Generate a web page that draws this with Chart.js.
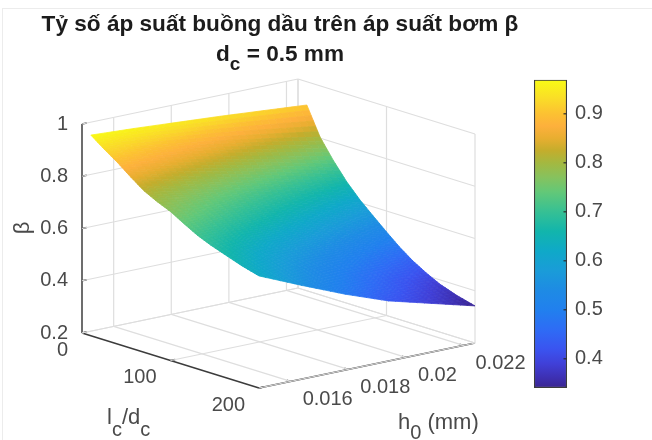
<!DOCTYPE html>
<html><head><meta charset="utf-8">
<style>html,body{margin:0;padding:0;background:#fff}
#w{position:relative;width:652px;height:440px;overflow:hidden}
canvas{display:block;filter:blur(0.7px)}</style>
<script src="https://cdn.jsdelivr.net/npm/chart.js@4/dist/chart.umd.min.js"></script>
</head><body><div id="w"><canvas id="c" width="652" height="440"></canvas></div>
<script>
const titleLine = "Tỷ số áp suất buồng dầu trên áp suất bơm β";
const lcTicks = [0,100,200];
const h0Ticks = [0.016,0.018,0.02,0.022];
const h0TickLabels = ["0.016","0.018","0.02","0.022"];
const betaTicks = [0.2,0.4,0.6,0.8,1];
const betaTickLabels = ["0.2","0.4","0.6","0.8","1"];
const cbTicks = [0.4,0.5,0.6,0.7,0.8,0.9];
const lcRange = [0,200];
const h0Range = [0.0149,0.0224];
const betaRange = [0.2,1];
const cbRange = [0.341,0.969];
const lcGrid = [10,25,40,55,70,85,100,115,130,145,160,180,200];
const h0Grid = [0.0149,0.0164,0.0179,0.0194,0.0209,0.0224];
const beta10  = [0.968,0.959,0.948,0.937,0.924,0.911];
const beta25  = [0.930,0.910,0.887,0.862,0.834,0.804];
const beta40  = [0.895,0.868,0.838,0.804,0.768,0.730];
const beta55  = [0.855,0.822,0.786,0.747,0.707,0.665];
const beta70  = [0.818,0.781,0.741,0.699,0.655,0.611];
const beta85  = [0.792,0.750,0.705,0.659,0.612,0.565];
const beta100 = [0.770,0.722,0.671,0.620,0.569,0.520];
const beta115 = [0.740,0.687,0.633,0.579,0.527,0.477];
const beta130 = [0.712,0.656,0.599,0.543,0.490,0.440];
const beta145 = [0.690,0.630,0.571,0.514,0.460,0.410];
const beta160 = [0.672,0.609,0.546,0.488,0.434,0.384];
const beta180 = [0.648,0.583,0.521,0.462,0.409,0.360];
const beta200 = [0.629,0.558,0.490,0.430,0.386,0.342];
const betaRows = [beta10,beta25,beta40,beta55,beta70,beta85,beta100,beta115,beta130,beta145,beta160,beta180,beta200];
const cmapValues = [0.341,0.36,0.39,0.42,0.46,0.50,0.54,0.58,0.62,0.66,0.70,0.74,0.77,0.80,0.825,0.85,0.875,0.90,0.93,0.969];
const cmapColors = ["#3a2590","#3d2fb0","#4040d8","#3a54f0","#2e6cf5","#2180ee","#1e8be4","#1a9cd8","#0fa9c8","#12b5ac","#36c094","#62c878","#86c25e","#a4b840","#c4ad2c","#e8ae30","#fdb03c","#fcc132","#fadc28","#f9fb15"];

const W=652,H=440;
const O={x:82,y:333}, LC={x:177,y:55}, HV={x:216,y:-45}, ZV=261.25;
function proj(lc,h,b){
  const a=(lc-lcRange[0])/(lcRange[1]-lcRange[0]), u=(h-h0Range[0])/(h0Range[1]-h0Range[0]);
  return {x:O.x+LC.x*a+HV.x*u, y:O.y+LC.y*a+HV.y*u-ZV*(b-betaRange[0])};
}
const [l0,l1]=lcRange,[h0,h1]=h0Range,[z0,z1]=betaRange;
function seg(a,b,color,width,n){return {type:'scatter',showLine:true,pointRadius:0,borderColor:color,borderWidth:width,fill:false,data:[proj(...a),proj(...b)],xAxisID:'x',yAxisID:'y',label:n}}
const GRID='#dedede', DARK='#3c3c3c';
const datasets=[];
// back planes
for(const t of h0Ticks.concat([h1])){
  datasets.push(seg([l0,t,z0],[l0,t,z1],GRID,1.2,'grid'));
  datasets.push(seg([l0,t,z0],[l1,t,z0],GRID,1.2,'grid'));
}
for(const t of lcTicks){
  datasets.push(seg([t,h1,z0],[t,h1,z1],GRID,1.2,'grid'));
  datasets.push(seg([t,h0,z0],[t,h1,z0],GRID,1.2,'grid'));
}
for(const t of betaTicks){
  datasets.push(seg([l0,h0,t],[l0,h1,t],GRID,1.2,'grid'));
  datasets.push(seg([l0,h1,t],[l1,h1,t],GRID,1.2,'grid'));
}
// axes
datasets.push(seg([l0,h0,z0],[l0,h0,z1],DARK,1.5,'beta axis'));
datasets.push(seg([l0,h0,z0],[l1,h0,z0],DARK,1.5,'lc axis'));
datasets.push(seg([l1,h0,z0],[l1,h1,z0],DARK,1.5,'h0 axis'));
// axis ticks
for(const t of betaTicks) datasets.push(seg([l0,h0,t],[l0,h0+(h1-h0)*0.022,t],DARK,1.5,'tick'));
for(const t of lcTicks) datasets.push(seg([t,h0,z0],[t,h0+(h1-h0)*0.022,z0],DARK,1.5,'tick'));
for(const t of h0Ticks) datasets.push(seg([l1,t,z0],[l1-(l1-l0)*0.022,t,z0],DARK,1.5,'tick'));
// surface mesh
const meshIndex=datasets.length;
const mesh=[];
lcGrid.forEach((lc,i)=>h0Grid.forEach((h,j)=>mesh.push(proj(lc,h,betaRows[i][j]))));
datasets.push({type:'scatter',label:'β surface',data:mesh,pointRadius:0,showLine:false,xAxisID:'x',yAxisID:'y'});
// colorbar
datasets.push({type:'bar',label:'colorbar',data:[{x:550.5,y:cbRange}],xAxisID:'x',yAxisID:'cb',barThickness:32.5,borderWidth:1.2,borderColor:'#3c3c3c',borderSkipped:false,
  backgroundColor(ctx){
    const ch=ctx.chart,s=ch.scales.cb; if(!s||!ch.chartArea) return '#888';
    const y0=s.getPixelForValue(cbRange[0]),y1=s.getPixelForValue(cbRange[1]);
    if(!isFinite(y0)||!isFinite(y1)) return '#888';
    const g=ch.ctx.createLinearGradient(0,y0,0,y1);
    cmapValues.forEach((v,i)=>g.addColorStop((v-cbRange[0])/(cbRange[1]-cbRange[0]),cmapColors[i]));
    return g;
  }});
function hex(c){return [1,3,5].map(i=>parseInt(c.substr(i,2),16))}
const cmapRGB=cmapColors.map(hex);
function colorOf(v){
  let i=0;while(i<cmapValues.length-2&&v>cmapValues[i+1])i++;
  let t=(v-cmapValues[i])/(cmapValues[i+1]-cmapValues[i]);t=Math.max(0,Math.min(1,t));
  const a=cmapRGB[i],b=cmapRGB[i+1];
  return `rgb(${a.map((c,k)=>Math.round(c+(b[k]-c)*t)).join(',')})`;
}
const surfacePlugin={id:'surface',afterDatasetsDraw(ch){
  const pts=ch.getDatasetMeta(meshIndex).data,ctx=ch.ctx,nc=h0Grid.length,nr=lcGrid.length,S=6;
  const P=(r,c)=>pts[r*nc+c];
  ctx.save();ctx.lineWidth=0.8;ctx.lineJoin='round';
  for(let r=0;r<nr-1;r++)for(let c=0;c<nc-1;c++){
    const A=P(r,c),B=P(r,c+1),C=P(r+1,c+1),D=P(r+1,c);
    const va=betaRows[r][c],vb=betaRows[r][c+1],vc=betaRows[r+1][c+1],vd=betaRows[r+1][c];
    const bl=(s,t,a,b,c2,d)=>(a*(1-s)*(1-t)+b*s*(1-t)+c2*s*t+d*(1-s)*t);
    for(let i=0;i<S;i++)for(let j=0;j<S;j++){
      const s0=j/S,s1=(j+1)/S,t0=i/S,t1=(i+1)/S;
      const q=[[s0,t0],[s1,t0],[s1,t1],[s0,t1]].map(([s,t])=>[bl(s,t,A.x,B.x,C.x,D.x),bl(s,t,A.y,B.y,C.y,D.y)]);
      const col=colorOf(bl((s0+s1)/2,(t0+t1)/2,va,vb,vc,vd));
      ctx.fillStyle=col;ctx.strokeStyle=col;
      ctx.beginPath();q.forEach((p,k)=>k?ctx.lineTo(p[0],p[1]):ctx.moveTo(p[0],p[1]));ctx.closePath();ctx.fill();ctx.stroke();
    }
  }
  ctx.restore();
}};
const TXT='#4a4a4a', TICKFONT='20px "Liberation Sans"';
function text(ctx,s,x,y,font,align,color){ctx.font=font;ctx.textAlign=align||'left';ctx.textBaseline='middle';ctx.fillStyle=color||TXT;ctx.fillText(s,x,y);}
const textPlugin={id:'texts',afterDraw(ch){
  const ctx=ch.ctx,xs=ch.scales.x,ys=ch.scales.y,cb=ch.scales.cb;
  const px=p=>({x:xs.getPixelForValue(p.x),y:ys.getPixelForValue(p.y)});
  ctx.save();
  // frame
  ctx.strokeStyle='#ececec';ctx.lineWidth=1;ctx.strokeRect(2.5,8.5,700,500);
  // title
  const TF='bold 22.6px "Liberation Sans"',TS='bold 19px "Liberation Sans"';
  text(ctx,titleLine,280,25,TF,'center','#1c1c1c');
  ctx.font=TF;
  const a="d",b=" = 0.5 mm";const wa=ctx.measureText(a).width,wb=ctx.measureText(b).width;ctx.font=TS;const wc=ctx.measureText("c").width;
  let x=280-(wa+wb+wc)/2;
  text(ctx,a,x,54.5,TF,'left','#1c1c1c');x+=wa;
  text(ctx,"c",x,65,TS,'left','#1c1c1c');x+=wc;
  text(ctx,b,x,54.5,TF,'left','#1c1c1c');
  // beta ticks
  betaTicks.forEach((t,i)=>{const p=px(proj(l0,h0,t));text(ctx,betaTickLabels[i],p.x-14,p.y,TICKFONT,'right');});
  lcTicks.forEach(t=>{const p=px(proj(t,h0,z0));text(ctx,String(t),p.x-14,p.y+17,TICKFONT,'right');});
  h0Ticks.forEach((t,i)=>{const p=px(proj(l1,t,z0));text(ctx,h0TickLabels[i],p.x+12,p.y+18.5,TICKFONT,'left');});
  // colorbar ticks
  const cx=xs.getPixelForValue(550.5)+16;
  cbTicks.forEach(t=>{const y=cb.getPixelForValue(t);
    ctx.strokeStyle='#2a2a2a';ctx.lineWidth=1.2;ctx.beginPath();ctx.moveTo(cx-3,y);ctx.lineTo(cx,y);ctx.stroke();
    text(ctx,t.toFixed(1),575,y,TICKFONT,'left');});
  // axis titles
  ctx.save();ctx.translate(23,228);ctx.rotate(-Math.PI/2);text(ctx,"β",0,0,'22px "Liberation Sans"','center');ctx.restore();
  const LF='22px "Liberation Sans"',SF='20px "Liberation Sans"';
  let lx=107;
  for(const [s,sub] of [["l",0],["c",1],["/d",0],["c",1]]){text(ctx,s,lx,sub?430:418,sub?SF:LF);ctx.font=sub?SF:LF;lx+=ctx.measureText(s).width;}
  lx=398;
  for(const [s,sub] of [["h",0],["0",1],[" (mm)",0]]){text(ctx,s,lx,sub?433:423,sub?SF:LF);ctx.font=sub?SF:LF;lx+=ctx.measureText(s).width;}
  ctx.restore();
}};
const cbPerPx=(cbRange[1]-cbRange[0])/307.7;
new Chart(document.getElementById('c'),{
  data:{datasets},
  plugins:[surfacePlugin,textPlugin],
  options:{responsive:false,animation:false,parsing:{xAxisKey:'x',yAxisKey:'y'},
    layout:{padding:0},
    plugins:{legend:{display:false},tooltip:{enabled:false},title:{display:false}},
    scales:{
      x:{type:'linear',min:0,max:W,display:false,offset:false},
      y:{type:'linear',min:0,max:H,reverse:true,display:false},
      cb:{type:'linear',display:false,min:cbRange[1]-440*cbPerPx+80*cbPerPx,max:cbRange[1]+80*cbPerPx}
    }
  }
});
</script></body></html>
